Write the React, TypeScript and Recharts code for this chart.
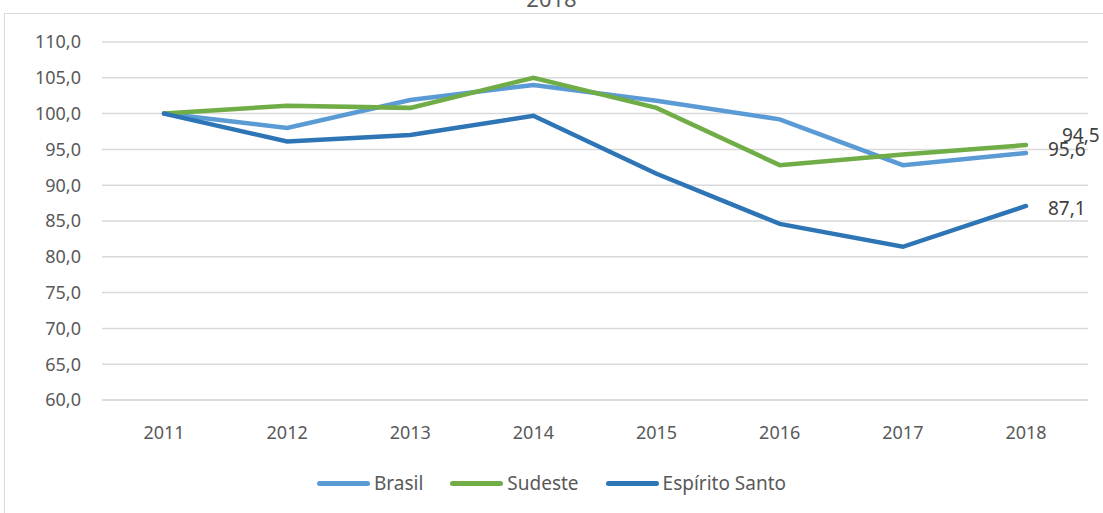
import { LineChart, Line, XAxis, YAxis, CartesianGrid, LabelList } from 'recharts'

const years = ['2011', '2012', '2013', '2014', '2015', '2016', '2017', '2018']
const brasil = [100.0, 98.0, 101.9, 104.0, 101.8, 99.2, 92.8, 94.5]
const sudeste = [100.0, 101.1, 100.8, 105.0, 100.8, 92.8, 94.3, 95.6]
const espiritoSanto = [100.0, 96.1, 97.0, 99.7, 91.6, 84.6, 81.4, 87.1]
const yTicks = [60, 65, 70, 75, 80, 85, 90, 95, 100, 105, 110]

const series = [
    { key: 'brasil', name: 'Brasil', color: '#5B9BD5' },
    { key: 'sudeste', name: 'Sudeste', color: '#70AD47' },
    { key: 'es', name: 'Espírito Santo', color: '#2E75B6' },
]

const fmt = (v: number) => v.toFixed(1).replace('.', ',')
const FONT = '"Noto Sans", sans-serif'

// only the last point gets a value label
const endLabel = (dx: number, dy: number) => (props: any) => {
    const { x, y, value, index } = props
    if (index !== years.length - 1) return null
    return (
        <text x={x + dx} y={y + dy} fill="#404040" fontSize={19} fontFamily={FONT} dominantBaseline="central">
            {fmt(value)}
        </text>
    )
}

export default function App() {
    const data = years.map((year, i) => ({
        year,
        brasil: brasil[i],
        sudeste: sudeste[i],
        es: espiritoSanto[i],
    }))

    return (
        <div style={{ position: 'absolute', left: 0, top: 0, width: 1103, height: 513, overflow: 'hidden', background: '#fff', fontFamily: FONT }}>
            <div style={{ position: 'absolute', left: 4, top: 13, width: 1120, height: 520, border: '1px solid #D9D9D9' }} />
            <div style={{ position: 'absolute', left: 0, width: 1103, top: -17, textAlign: 'center', fontSize: 22, color: '#595959' }}>
                2018
            </div>
            <div style={{ position: 'absolute', left: 0, top: 0 }}>
                <LineChart width={1103} height={513} data={data} margin={{ top: 42, right: 15, bottom: 83, left: 0 }}>
                    <CartesianGrid vertical={false} stroke="#D9D9D9" strokeWidth={1.5} />
                    <XAxis
                        dataKey="year"
                        height={30}
                        padding={{ left: 62, right: 62 }}
                        tickLine={false}
                        axisLine={{ stroke: '#D9D9D9', strokeWidth: 1.5 }}
                        tick={{ fill: '#595959', fontSize: 18, fontFamily: FONT }}
                        tickMargin={20}
                        interval={0}
                    />
                    <YAxis
                        width={102}
                        domain={[60, 110]}
                        ticks={yTicks}
                        tickFormatter={fmt}
                        axisLine={false}
                        tickLine={false}
                        tick={{ fill: '#595959', fontSize: 18, fontFamily: FONT }}
                        tickMargin={15}
                        interval={0}
                    />
                    <Line type="linear" dataKey="brasil" name="Brasil" stroke="#5B9BD5" strokeWidth={4.5} strokeLinecap="round" dot={false} isAnimationActive={false}>
                        <LabelList dataKey="brasil" content={endLabel(36, -18)} />
                    </Line>
                    <Line type="linear" dataKey="sudeste" name="Sudeste" stroke="#70AD47" strokeWidth={4.5} strokeLinecap="round" dot={false} isAnimationActive={false}>
                        <LabelList dataKey="sudeste" content={endLabel(22, 4)} />
                    </Line>
                    <Line type="linear" dataKey="es" name="Espírito Santo" stroke="#2E75B6" strokeWidth={4.5} strokeLinecap="round" dot={false} isAnimationActive={false}>
                        <LabelList dataKey="es" content={endLabel(22, 2)} />
                    </Line>
                </LineChart>
            </div>
            <div style={{ position: 'absolute', left: 0, width: 1103, top: 470, display: 'flex', justifyContent: 'center', gap: 27, fontSize: 19, color: '#595959' }}>
                {series.map((s) => (
                    <div key={s.key} style={{ display: 'flex', alignItems: 'center' }}>
                        <div style={{ width: 53, height: 5, borderRadius: 3, background: s.color, marginRight: 4 }} />
                        <span>{s.name}</span>
                    </div>
                ))}
            </div>
        </div>
    )
}
